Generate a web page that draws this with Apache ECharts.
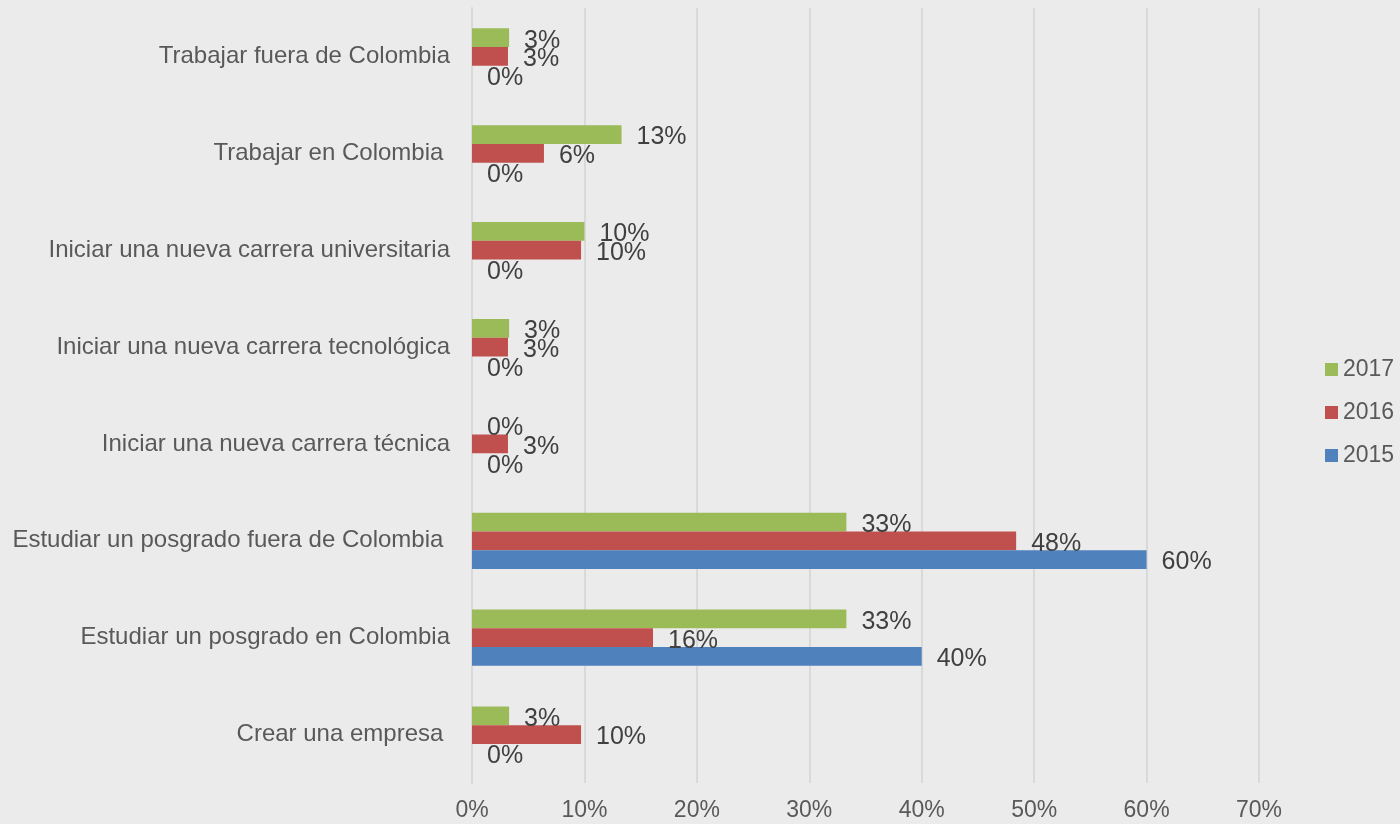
<!DOCTYPE html>
<html>
<head>
<meta charset="utf-8">
<script src="https://cdn.jsdelivr.net/npm/echarts@6/dist/echarts.min.js"></script>
<style>
html,body{margin:0;padding:0;background:#ebebeb;}
#c{width:1400px;height:824px;}
</style>
</head>
<body>
<div id="c"></div>
<script>
const categories = [
  'Crear una empresa ',
  'Estudiar un posgrado en Colombia',
  'Estudiar un posgrado fuera de Colombia ',
  'Iniciar una nueva carrera técnica',
  'Iniciar una nueva carrera tecnológica',
  'Iniciar una nueva carrera universitaria',
  'Trabajar en Colombia ',
  'Trabajar fuera de Colombia'
];
const seriesNames = ['2017', '2016', '2015'];
const values2015 = [0, 40, 60, 0, 0, 0, 0, 0];
const values2016 = [9.7, 16.1, 48.4, 3.2, 3.2, 9.7, 6.4, 3.2];
const values2017 = [3.3, 33.3, 33.3, 0, 3.3, 10, 13.3, 3.3];
const xTicks = [0, 10, 20, 30, 40, 50, 60, 70];
const colors = {'2015': '#4f81bd', '2016': '#c0504d', '2017': '#9bbb59'};

const seriesData = {'2015': values2015, '2016': values2016, '2017': values2017};
const font = 'Liberation Sans, Arial, sans-serif';

const chart = echarts.init(document.getElementById('c'));
chart.setOption({
  backgroundColor: '#ebebeb',
  animation: false,
  grid: {left: 472, right: 141, top: 8, bottom: 41, containLabel: false},
  legend: {
    orient: 'vertical',
    left: 1320,
    top: 353,
    itemWidth: 13,
    itemHeight: 13,
    itemGap: 20,
    icon: 'rect',
    data: ['2017', '2016', '2015'],
    textStyle: {fontFamily: font, fontSize: 23, color: '#595959'}
  },
  xAxis: {
    type: 'value',
    min: xTicks[0],
    max: xTicks[xTicks.length - 1],
    interval: 10,
    axisLine: {show: false},
    axisTick: {show: false},
    splitLine: {lineStyle: {color: '#d9d9d9', width: 2}},
    axisLabel: {formatter: v => v + '%', fontFamily: font, fontSize: 23, color: '#595959', margin: 16}
  },
  yAxis: {
    type: 'category',
    data: categories,
    axisLine: {lineStyle: {color: '#d9d9d9', width: 2}},
    axisTick: {show: false},
    axisLabel: {fontFamily: font, fontSize: 24, color: '#595959', margin: 22}
  },
  series: seriesNames.map(n => ({
    name: n,
    type: 'bar',
    data: seriesData[n],
    barGap: '0%',
    barCategoryGap: '42%',
    itemStyle: {color: colors[n]},
    label: {
      show: true,
      position: 'right',
      distance: 15,
      offset: [0, 3],
      formatter: p => Math.round(p.value) + '%',
      fontFamily: font,
      fontSize: 25,
      color: '#404040'
    }
  }))
});
</script>
</body>
</html>
